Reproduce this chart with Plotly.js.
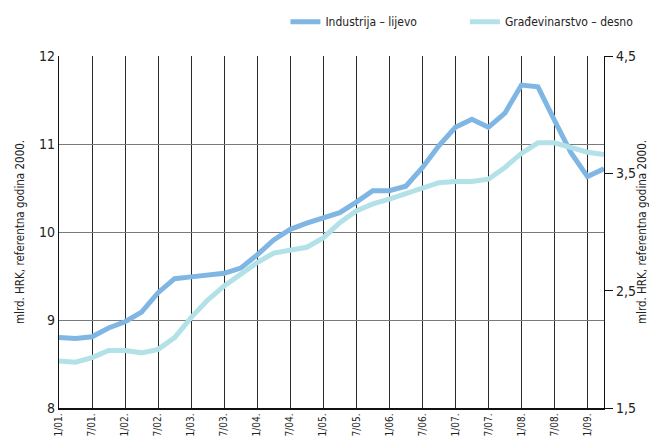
<!DOCTYPE html>
<html>
<head>
<meta charset="utf-8">
<script src="https://cdn.plot.ly/plotly-3.0.1.min.js"></script>
<style>
html,body{margin:0;padding:0;background:#fff;}
#chart{width:649px;height:436px;}
</style>
</head>
<body>
<div id="chart"></div>
<script>
// Quarterly periods (month/year)
var quarters = ["1/01.","4/01.","7/01.","10/01.","1/02.","4/02.","7/02.","10/02.",
  "1/03.","4/03.","7/03.","10/03.","1/04.","4/04.","7/04.","10/04.",
  "1/05.","4/05.","7/05.","10/05.","1/06.","4/06.","7/06.","10/06.",
  "1/07.","4/07.","7/07.","10/07.","1/08.","4/08.","7/08.","10/08.",
  "1/09.","4/09."];
// Tick labels shown on the x axis
var tickLabels = ["1/01.","7/01.","1/02.","7/02.","1/03.","7/03.","1/04.","7/04.",
  "1/05.","7/05.","1/06.","7/06.","1/07.","7/07.","1/08.","7/08.","1/09."];
// Industrija (left axis), mlrd. HRK
var industrija = [8.80,8.79,8.81,8.91,8.98,9.09,9.31,9.47,
  9.49,9.51,9.53,9.59,9.74,9.91,10.03,10.10,
  10.16,10.22,10.34,10.47,10.47,10.52,10.73,10.98,
  11.19,11.28,11.19,11.35,11.67,11.65,11.27,10.90,
  10.63,10.72];
// Građevinarstvo (right axis), mlrd. HRK
var gradjevinarstvo = [1.90,1.89,1.93,1.99,1.99,1.97,2.00,2.10,
  2.27,2.42,2.54,2.64,2.74,2.82,2.85,2.87,
  2.95,3.08,3.18,3.24,3.28,3.33,3.38,3.42,
  3.43,3.43,3.45,3.55,3.67,3.76,3.76,3.72,
  3.68,3.66];
var seriesNames = ["Industrija – lijevo","Građevinarstvo – desno"];
var axisTitle = "mlrd. HRK, referentna godina 2000.";

var FONT = "Liberation Sans Narrow, DejaVu Sans Condensed, Arial Narrow, sans-serif";

var traces = [
  {x: quarters, y: industrija, name: seriesNames[0], type: "scatter", mode: "lines",
   line: {color: "#7fb6e4", width: 5}, yaxis: "y", legend: "legend"},
  {x: quarters, y: gradjevinarstvo, name: seriesNames[1], type: "scatter", mode: "lines",
   line: {color: "#b2e1e8", width: 5}, yaxis: "y2", legend: "legend2"}
];

var legendStyle = {orientation: "h", yref: "container",
  y: 0.95, yanchor: "middle",
  font: {family: FONT, size: 12, color: "#222"},
  bgcolor: "rgba(0,0,0,0)", borderwidth: 0};

var layout = {
  width: 649, height: 436,
  margin: {l: 59, r: 45, t: 56, b: 28, pad: 0, autoexpand: false},
  paper_bgcolor: "#fff", plot_bgcolor: "#fff",
  separators: ", ",
  font: {family: FONT, size: 13, color: "#222"},
  showlegend: true,
  legend: Object.assign({}, legendStyle, {xref: "container", x: 0.4398, xanchor: "left"}),
  legend2: Object.assign({}, legendStyle, {xref: "paper", x: 1.064, xanchor: "right"}),
  xaxis: {
    type: "category", range: [0, 33], automargin: false,
    tickmode: "array", tickvals: tickLabels, ticktext: tickLabels,
    tickangle: -90, ticks: "", showgrid: true, gridcolor: "#2a2a2a", gridwidth: 1,
    showline: true, linecolor: "#111", linewidth: 1.5, zeroline: false,
    tickfont: {family: FONT, size: 10, color: "#222"}
  },
  yaxis: {
    range: [8, 12], tick0: 8, dtick: 1, ticks: "", showgrid: true, gridcolor: "#7a7a7a",
    gridwidth: 1, showline: true, linecolor: "#111", linewidth: 1.2, zeroline: false,
    automargin: false,
    tickfont: {family: FONT, size: 14, color: "#222"},
    title: {text: axisTitle, font: {family: FONT, size: 11.5, color: "#222"}, standoff: 12}
  },
  yaxis2: {
    range: [1.5, 4.5], tick0: 1.5, dtick: 1, overlaying: "y", side: "right",
    tickformat: ".1f", ticks: "outside", ticklen: 8, tickcolor: "#111", showgrid: false,
    showline: true, linecolor: "#111", linewidth: 1.2, zeroline: false, automargin: false,
    tickfont: {family: FONT, size: 14, color: "#222"},
    title: {text: axisTitle, font: {family: FONT, size: 11.5, color: "#222"}, standoff: 14}
  }
};

var gd = document.getElementById("chart");
Plotly.newPlot(gd, traces, layout, {displayModeBar: false, staticPlot: true}).then(function () {
  // Align the second legend entry's text with its place in the reference layout.
  var txt = gd.querySelector("g.legend2 text.legendtext");
  if (!txt) return;
  var box = gd.getBoundingClientRect();
  var left = txt.getBoundingClientRect().left - box.left;
  var wantedLeft = 529;
  var delta = wantedLeft - left;
  if (Math.abs(delta) > 0.5) {
    Plotly.relayout(gd, {"legend2.x": layout.legend2.x + delta / gd._fullLayout._size.w});
  }
});
</script>
</body>
</html>
